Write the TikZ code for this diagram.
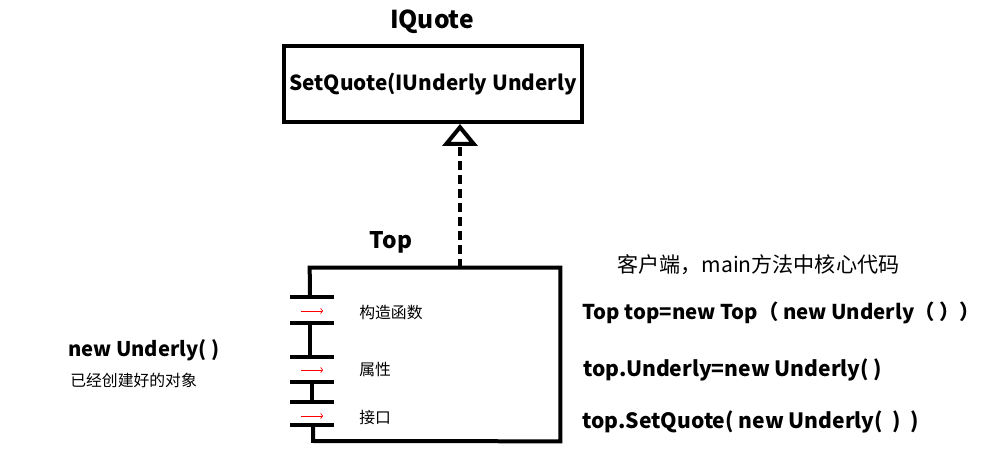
\documentclass[tikz,border=0pt]{standalone}
\usepackage{fontspec}
\setmainfont{Noto Sans CJK SC}
\usetikzlibrary{positioning,arrows.meta}

\begin{document}
\begin{tikzpicture}[x=0.02cm, y=-0.02cm,
    thickline/.style={line width=0.08cm},
    boldtext/.style={font=\fontsize{12}{14}\selectfont\bfseries, inner sep=0},
    plaintext/.style={font=\fontsize{9}{11}\selectfont, inner sep=0}]
    \useasboundingbox (0,0) rectangle (990,455);
    % interface box
    \node[boldtext, font=\fontsize{14}{16}\selectfont\bfseries] (qname) at (432,22) {IQuote};
    \node[thickline, draw, minimum width=5.96cm, minimum height=1.52cm, boldtext,
      font=\fontsize{11.8}{14}\selectfont\bfseries]
      (quote) at (433,84) {SetQuote(IUnderly Underly};
    % class box
    \node[minimum width=5cm, minimum height=3.46cm, inner sep=0] (topbox) at (435,354.5) {};
    \node[boldtext, font=\fontsize{13}{15}\selectfont\bfseries] (tname) at (391,242) {Top};
    \draw[thickline] (310,297) -- (topbox.north west) -- (topbox.north east)
      -- (topbox.south east) -- (313,441) -- (313,425);
    \draw[thickline] (310,323) -- (310,357);
    \draw[thickline] (312,382) -- (312,402);
    \foreach \y in {297,323,357,382,402,425}
      \draw[thickline] (290,\y) -- (334,\y);
    \foreach \y in {311,370,416}
      \draw[red, -{To[length=1.5pt]}] (301,\y) -- (323,\y);
    \node[plaintext, anchor=west] (ctor) at (359,313) {构造函数};
    \node[plaintext, anchor=west] (prop) at (359,370) {属性};
    \node[plaintext, anchor=west] (iface) at (359,418) {接口};
    % realization
    \draw[thickline, dash pattern=on 0.18cm off 0.1cm,
      -{Triangle[open, length=0.44cm 0, width=0.7cm 0]}]
      (topbox.north -| 460,0) -- (quote.south -| 460,0);
    % left note
    \node[boldtext, font=\fontsize{11.5}{14}\selectfont\bfseries, anchor=west] (obj) at (68,350) {new Underly( )};
    \node[plaintext, anchor=west] (objnote) at (70,380) {已经创建好的对象};
    % client code
    \node[plaintext, font=\fontsize{12}{14}\selectfont, anchor=west] (client) at (617,265) {客户端，main方法中核心代码};
    \node[boldtext, font=\fontsize{11.6}{14}\selectfont\bfseries, anchor=west] (line1) at (582,313) {Top top=new Top（ new Underly（ ））};
    \node[boldtext, anchor=west] (line2) at (583,370) {top.Underly=new Underly( )};
    \node[boldtext, anchor=west] (line3) at (582,422) {top.SetQuote( new Underly(\ \ )\ \ )};
\end{tikzpicture}
\end{document}
